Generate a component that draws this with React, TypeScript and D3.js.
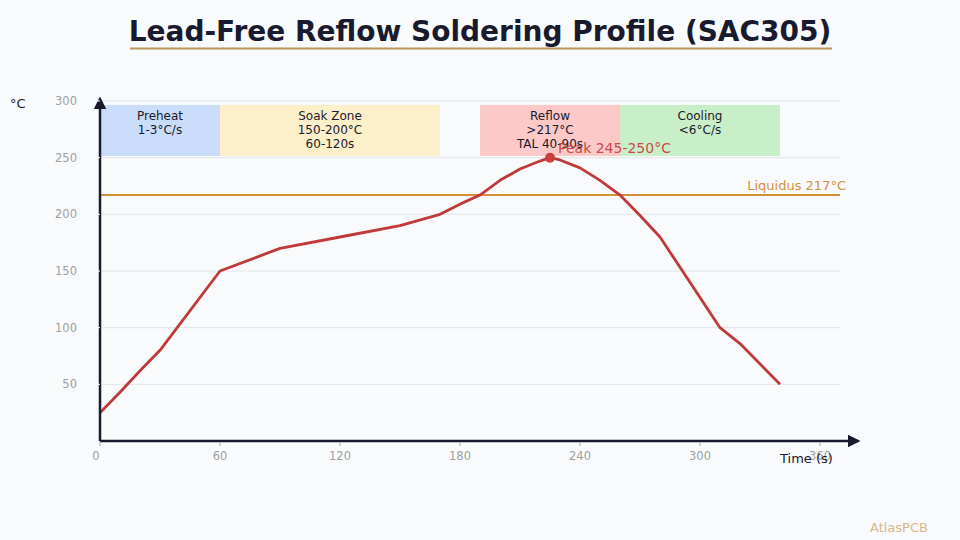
import React from "react";
import * as d3 from "d3";

const times = [0, 10, 20, 30, 60, 90, 120, 150, 170, 180, 190, 200, 210, 220, 225, 230, 240, 250, 260, 270, 280, 310, 320, 340];
const temps = [25, 43, 62, 80, 150, 170, 180, 190, 200, 209, 217, 230, 240, 247, 250, 248, 241, 230, 217, 199, 180, 100, 86, 50];

const zoneStart = [0, 60, 190, 260];
const zoneEnd = [60, 170, 260, 340];
const zoneLabels = [
  ["Preheat", "1-3°C/s"],
  ["Soak Zone", "150-200°C", "60-120s"],
  ["Reflow", ">217°C", "TAL 40-90s"],
  ["Cooling", "<6°C/s"],
];
const zoneColors = ["#c9dcf9", "#fdefc9", "#fdc8c8", "#c9efc9"];

const xTicks = [0, 60, 120, 180, 240, 300, 360];
const yTicks = [50, 100, 150, 200, 250, 300];
const liquidus = 217;
const peakTime = 225;
const peakTemp = 250;

const W = 960;
const H = 540;
const FONT = "DejaVu Sans, Verdana, sans-serif";

export default function App() {
  const x = d3.scaleLinear().domain([0, 360]).range([100, 820]);
  const y = d3.scaleLinear().domain([0, 300]).range([441, 101]);
  const xMax = 370;

  const pts = times.map((t, i) => [t, temps[i]] as [number, number]);
  const line = d3
    .line<[number, number]>()
    .x((d) => x(d[0]))
    .y((d) => y(d[1]))
    .curve(d3.curveLinear);

  const axisColor = "#1a1a2e";

  return (
    <svg width={W} height={H} style={{ position: "absolute", left: 0, top: 0, background: "#f8fafc", fontFamily: FONT }}>
      <rect x={0} y={0} width={W} height={H} fill="#f8fafc" />
      <defs>
        <marker id="arr" viewBox="0 0 10 10" refX={8} refY={5} markerWidth={5} markerHeight={5} orient="auto">
          <path d="M0,0 L10,5 L0,10 z" fill={axisColor} />
        </marker>
      </defs>

      {/* Title */}
      <text x={480} y={41} textAnchor="middle" fontSize={28} fontWeight="bold" fill="#1a1a2e" fontFamily={FONT}>
        Lead-Free Reflow Soldering Profile (SAC305)
      </text>
      <line x1={130} x2={832} y1={48.5} y2={48.5} stroke="#b8965a" strokeWidth={2} />

      {/* Grid */}
      {yTicks.map((t) => (
        <line key={"g" + t} x1={x(0)} x2={x(xMax)} y1={y(t)} y2={y(t)} stroke="#e3e5e8" strokeWidth={1} />
      ))}

      {/* Zones */}
      {zoneStart.map((s, i) => (
        <g key={"z" + i}>
          <rect x={x(s)} y={y(296.5)} width={x(zoneEnd[i]) - x(s)} height={y(251.5) - y(296.5)} fill={zoneColors[i]} />
        </g>
      ))}
      {zoneStart.map((s, i) => (
        <g key={"zt" + i}>
          {zoneLabels[i].map((l, j) => (
            <text key={j} x={(x(s) + x(zoneEnd[i])) / 2} y={120 + j * 14} textAnchor="middle" fontSize={12} fill="#1a1a2e">
              {l}
            </text>
          ))}
        </g>
      ))}

      {/* Liquidus */}
      <line x1={x(0)} x2={x(xMax)} y1={y(liquidus)} y2={y(liquidus)} stroke="#d4913a" strokeWidth={2} />
      <text x={x(xMax) + 6} y={y(liquidus) - 5} textAnchor="end" fontSize={13} fill="#d4913a">
        Liquidus {liquidus}°C
      </text>

      {/* Curve */}
      <path d={line(pts) || ""} fill="none" stroke="#c0393b" strokeWidth={2.8} strokeLinejoin="round" />
      <circle cx={x(peakTime)} cy={y(peakTemp)} r={5} fill="#c94040" />
      <text x={x(peakTime) + 8} y={y(peakTemp) - 5} fontSize={14} fill="#c94040" fillOpacity={0.95}>
        Peak 245-250°C
      </text>

      {/* Axes */}
      <line x1={x(0)} x2={858} y1={y(0)} y2={y(0)} stroke={axisColor} strokeWidth={2.5} markerEnd="url(#arr)" />
      <line x1={x(0)} x2={x(0)} y1={y(0)} y2={99} stroke={axisColor} strokeWidth={2.5} markerEnd="url(#arr)" />

      {xTicks.map((t) => (
        <g key={"xt" + t}>
          <line x1={x(t)} x2={x(t)} y1={y(0) + 1} y2={y(0) + 5} stroke="#aaaaaa" strokeWidth={1} />
          <text x={x(t) - (t === 0 ? 4 : 0)} y={460} textAnchor="middle" fontSize={11.5} fill="#a0a0a0">
            {t}
          </text>
        </g>
      ))}
      {yTicks.map((t) => (
        <g key={"yt" + t}>
          <line x1={x(0) - 4} x2={x(0)} y1={y(t)} y2={y(t)} stroke="#ffffff" strokeWidth={1} />
          <text x={77} y={y(t) + 4} textAnchor="end" fontSize={11.5} fill="#a0a0a0">
            {t}
          </text>
        </g>
      ))}

      <text x={10} y={108} fontSize={13} fill="#1a1a2e">°C</text>
      <text x={780} y={463} fontSize={13} fill="#1a1a2e">Time (s)</text>

      <text x={870} y={532} fontSize={13} fill="#d8b98a">AtlasPCB</text>
    </svg>
  );
}
